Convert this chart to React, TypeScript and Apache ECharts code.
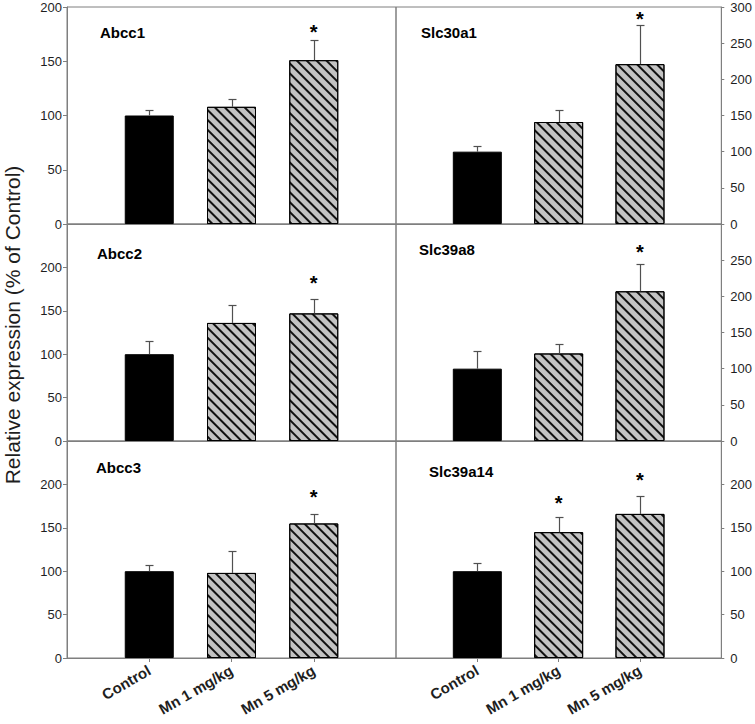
import React, { useEffect, useRef } from "react";
import * as echarts from "echarts";

// ---- Data ----
const categories = ["Control", "Mn 1 mg/kg", "Mn 5 mg/kg"];
const genes = ["Abcc1", "Slc30a1", "Abcc2", "Slc39a8", "Abcc3", "Slc39a14"];

const abcc1Mean = [100, 108, 151];
const abcc1Sem = [5, 7, 19];
const abcc1Star = [null, null, 180];

const slc30a1Mean = [100, 141, 221];
const slc30a1Sem = [8, 17, 54];
const slc30a1Star = [null, null, 287];

const abcc2Mean = [100, 136, 147];
const abcc2Sem = [15, 21, 17];
const abcc2Star = [null, null, 185];

const slc39a8Mean = [100, 121, 207];
const slc39a8Sem = [25, 13, 38];
const slc39a8Star = [null, null, 265];

const abcc3Mean = [100, 98, 155];
const abcc3Sem = [7, 25, 11];
const abcc3Star = [null, null, 189];

const slc39a14Mean = [100, 145, 166];
const slc39a14Sem = [10, 17, 21];
const slc39a14Star = [null, 182, 208];

const yMax = [200, 300, 250, 300, 250, 250];
const yTickStep = 50;

const yTitle = "Relative expression (% of Control)";

const panelMeans = [abcc1Mean, slc30a1Mean, abcc2Mean, slc39a8Mean, abcc3Mean, slc39a14Mean];
const panelSems = [abcc1Sem, slc30a1Sem, abcc2Sem, slc39a8Sem, abcc3Sem, slc39a14Sem];
const panelStars = [abcc1Star, slc30a1Star, abcc2Star, slc39a8Star, abcc3Star, slc39a14Star];

// ---- Styling / layout ----
const FONT = "'Liberation Sans', Arial, Helvetica, sans-serif";
const AXIS_GRAY = "#7f7f7f";
const TEXT = "#1e1e1e";
const ERR = "#505050";
const HATCH_FILL = "#c3c3c3";

const gridLefts = [67, 396];
const gridTops = [7, 224, 441];
const gridW = 329;
const gridH = 217;
const labelPos = [
  [100, 32],
  [421, 32],
  [97, 253],
  [419, 249],
  [96, 467],
  [429, 471],
];

export default function App() {
  const ref = useRef<HTMLDivElement>(null);

  useEffect(() => {
    if (!ref.current) return;
    const chart = echarts.init(ref.current, null, { renderer: "svg" });

    const xData = ["", ...categories, ""];
    const grids: any[] = [];
    const xAxes: any[] = [];
    const yAxes: any[] = [];
    const series: any[] = [];

    for (let p = 0; p < 6; p++) {
      const col = p % 2;
      const row = Math.floor(p / 2);
      const isBottom = row === 2;
      grids.push({
        left: gridLefts[col],
        top: gridTops[row],
        width: gridW,
        height: gridH,
        show: true,
        borderColor: AXIS_GRAY,
        borderWidth: 1,
        backgroundColor: "transparent",
      });
      xAxes.push({
        gridIndex: p,
        type: "category",
        data: xData,
        boundaryGap: false,
        axisLine: { show: true, lineStyle: { color: AXIS_GRAY, width: 1 } },
        axisTick: {
          show: isBottom,
          interval: (i: number) => i >= 1 && i <= 3,
          length: 4,
          lineStyle: { color: AXIS_GRAY },
        },
        axisLabel: {
          show: isBottom,
          interval: (i: number) => i >= 1 && i <= 3,
          rotate: 30,
          margin: 11,
          fontFamily: FONT,
          fontWeight: "bold",
          fontSize: 15,
          color: TEXT,
        },
        splitLine: { show: false },
      });
      const max = yMax[p];
      yAxes.push({
        gridIndex: p,
        type: "value",
        position: col === 0 ? "left" : "right",
        min: 0,
        max,
        interval: yTickStep,
        axisLine: { show: true, lineStyle: { color: AXIS_GRAY, width: 1 } },
        axisTick: { show: true, length: col === 0 ? 4 : 3, lineStyle: { color: AXIS_GRAY } },
        axisLabel: {
          show: true,
          showMaxLabel: row === 0,
          margin: col === 0 ? 5 : 9,
          fontFamily: FONT,
          fontSize: 13,
          color: TEXT,
        },
        splitLine: { show: false },
      });

      const means = panelMeans[p];
      const sems = panelSems[p];
      const stars = panelStars[p];

      const barData: any[] = ["-"];
      means.forEach((v, i) => {
        if (i === 0) {
          barData.push({
            value: v,
            itemStyle: { color: "#000", borderColor: "#000", borderWidth: 1 },
          });
        } else {
          barData.push({
            value: v,
            itemStyle: {
              color: HATCH_FILL,
              borderColor: "#000",
              borderWidth: 1,
              decal: {
                symbol: "rect",
                symbolSize: 1,
                color: "#111",
                dashArrayX: [1, 0],
                dashArrayY: [1.1, 4.4],
                rotation: Math.PI / 4,
              },
            },
          });
        }
      });
      barData.push("-");

      series.push({
        type: "bar",
        xAxisIndex: p,
        yAxisIndex: p,
        data: barData,
        barWidth: 49,
        silent: true,
        z: 2,
      });

      series.push({
        type: "custom",
        xAxisIndex: p,
        yAxisIndex: p,
        silent: true,
        z: 3,
        data: means.map((v, i) => [i + 1, v, v + sems[i]]),
        renderItem: (params: any, api: any) => {
          const x = api.value(0);
          const m = api.coord([x, api.value(1)]);
          const t = api.coord([x, api.value(2)]);
          const cx = Math.round(m[0]) + 0.5;
          const ty = Math.round(t[1]) + 0.5;
          return {
            type: "group",
            children: [
              {
                type: "line",
                shape: { x1: cx, y1: m[1], x2: cx, y2: ty },
                style: { stroke: ERR, lineWidth: 1.2 },
              },
              {
                type: "line",
                shape: { x1: cx - 4, y1: ty, x2: cx + 4, y2: ty },
                style: { stroke: ERR, lineWidth: 1.2 },
              },
            ],
          };
        },
      });

      const starData = stars
        .map((s, i) => (s == null ? null : [i + 1, s]))
        .filter((d) => d !== null);
      series.push({
        type: "custom",
        xAxisIndex: p,
        yAxisIndex: p,
        silent: true,
        z: 4,
        data: starData,
        renderItem: (params: any, api: any) => {
          const c = api.coord([api.value(0), api.value(1)]);
          return {
            type: "text",
            x: c[0],
            y: c[1] + 3,
            style: {
              text: "*",
              fontFamily: FONT,
              fontWeight: "bold",
              fontSize: 20,
              fill: "#000",
              align: "center",
              verticalAlign: "middle",
            },
          };
        },
      });
    }

    const graphics: any[] = genes.map((g, i) => ({
      type: "text",
      x: labelPos[i][0],
      y: labelPos[i][1],
      style: {
        text: g,
        fontFamily: FONT,
        fontWeight: "bold",
        fontSize: 15,
        fill: "#000",
        align: "left",
        verticalAlign: "middle",
      },
    }));
    graphics.push({
      type: "text",
      x: 12,
      y: 325,
      rotation: Math.PI / 2,
      style: {
        text: yTitle,
        fontFamily: FONT,
        fontSize: 21,
        fill: TEXT,
        align: "center",
        verticalAlign: "middle",
      },
    });

    chart.setOption({
      animation: false,
      backgroundColor: "#fff",
      grid: grids,
      xAxis: xAxes,
      yAxis: yAxes,
      series,
      graphic: graphics,
    });

    return () => chart.dispose();
  }, []);

  return (
    <div
      ref={ref}
      style={{ position: "fixed", left: 0, top: 0, width: 755, height: 724 }}
    />
  );
}
